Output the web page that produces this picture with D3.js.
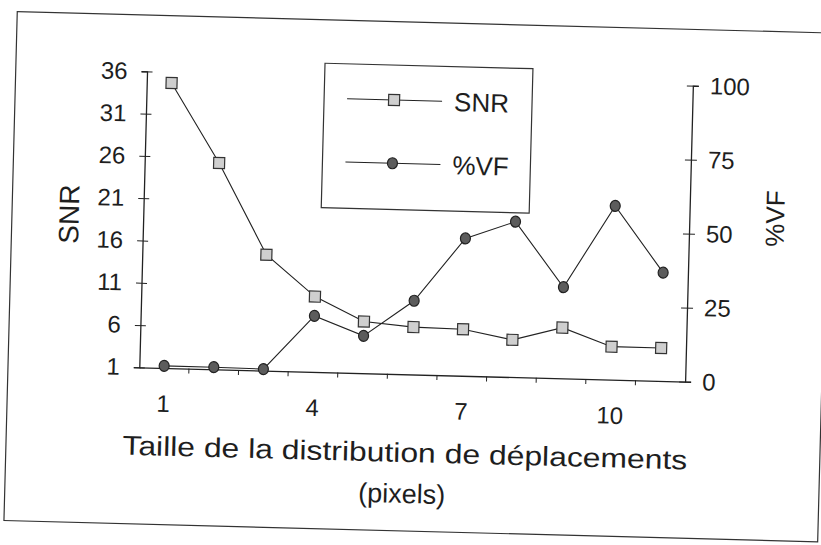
<!DOCTYPE html>
<html>
<head>
<meta charset="utf-8">
<script src="https://cdn.jsdelivr.net/npm/d3@7"></script>
<style>
  html, body { margin: 0; padding: 0; background: #ffffff; }
  svg { display: block; }
  text { font-family: "Liberation Sans", Arial, sans-serif; fill: #1e1e1e; }
</style>
</head>
<body>
<svg id="chart" width="821" height="545"></svg>
<script>
// Category axis: displacement distribution size (pixels)
const categories = [1, 2, 3, 4, 5, 6, 7, 8, 9, 10, 11];
// Left axis series: signal-to-noise ratio
const snrValues = [34.7, 25.4, 14.7, 9.9, 7.1, 6.6, 6.5, 5.4, 7.0, 4.9, 4.9];
// Right axis series: percentage of false vectors
const vfValues = [0.7, 0.7, 0.5, 18.9, 12.6, 24.9, 46.4, 52.5, 30.8, 58.7, 36.6];
// Tick labels
const xTickLabels = [1, 4, 7, 10];
const snrTicks = [1, 6, 11, 16, 21, 26, 31, 36];
const vfTicks = [0, 25, 50, 75, 100];
const seriesNames = ["SNR", "%VF"];
const xTitle = ["Taille de la distribution de déplacements", "(pixels)"];

const ink = "#222";
const plot = { left: 139.3, right: 685.3, top: 71.3, bottom: 367.3 };

const svg = d3.select("#chart");
svg.append("rect").attr("width", 821).attr("height", 545).attr("fill", "#fff");

// The whole sheet sits at a slight tilt
const g = svg.append("g")
  .attr("transform", `rotate(1.5, ${plot.left}, ${plot.bottom})`);

// Outer frame
g.append("rect")
  .attr("x", 8).attr("y", 15).attr("width", 814).attr("height", 509)
  .attr("fill", "none").attr("stroke", "#333").attr("stroke-width", 1.2);

const x = d3.scaleBand().domain(categories).range([plot.left, plot.right]).padding(0);
const cx = d => x(d) + x.bandwidth() / 2;
const ySnr = d3.scaleLinear().domain([1, 36]).range([plot.bottom, plot.top]);
const yVf = d3.scaleLinear().domain([0, 100]).range([plot.bottom, plot.top]);

// Left axis with crossing ticks
const axL = g.append("g").attr("transform", `translate(${plot.left},0)`)
  .call(d3.axisLeft(ySnr).tickValues(snrTicks).tickSize(5.5).tickPadding(14));
axL.selectAll(".tick line").attr("x1", 5.5);
// Right axis with crossing ticks
const axR = g.append("g").attr("transform", `translate(${plot.right},0)`)
  .call(d3.axisRight(yVf).tickValues(vfTicks).tickSize(6).tickPadding(11));
axR.selectAll(".tick line").attr("x1", -6);

[axL, axR].forEach(a => {
  a.select(".domain").attr("stroke", ink).attr("stroke-width", 1.3);
  a.selectAll(".tick line").attr("stroke", ink).attr("stroke-width", 1);
  a.selectAll(".tick text").style("font-size", "24px").attr("fill", "#1e1e1e")
    .style("font-family", "'Liberation Sans', Arial, sans-serif");
});

// Bottom axis: labels at category centres, ticks on category boundaries
const axB = g.append("g").attr("transform", `translate(0,${plot.bottom})`)
  .call(d3.axisBottom(x).tickValues(xTickLabels).tickSize(0).tickPadding(27));
axB.select(".domain").attr("stroke", ink).attr("stroke-width", 1.3);
axB.selectAll(".tick text").style("font-size", "24px").attr("fill", "#1e1e1e")
  .style("font-family", "'Liberation Sans', Arial, sans-serif");
g.append("g").selectAll("line")
  .data(categories.slice(1))
  .join("line")
  .attr("x1", d => x(d)).attr("x2", d => x(d))
  .attr("y1", plot.bottom).attr("y2", plot.bottom + 5)
  .attr("stroke", ink).attr("stroke-width", 1);

// Series lines
const lineSnr = d3.line().x((d, i) => cx(categories[i])).y(d => ySnr(d));
const lineVf = d3.line().x((d, i) => cx(categories[i])).y(d => yVf(d));
g.append("path").attr("d", lineSnr(snrValues))
  .attr("fill", "none").attr("stroke", ink).attr("stroke-width", 1.1);
g.append("path").attr("d", lineVf(vfValues))
  .attr("fill", "none").attr("stroke", ink).attr("stroke-width", 1.1);

// Markers
const sq = 11;
g.append("g").selectAll("rect")
  .data(snrValues).join("rect")
  .attr("x", (d, i) => cx(categories[i]) - sq / 2)
  .attr("y", d => ySnr(d) - sq / 2)
  .attr("width", sq).attr("height", sq)
  .attr("fill", "#cfcfcf").attr("stroke", "#333").attr("stroke-width", 1.2);
g.append("g").selectAll("ellipse")
  .data(vfValues).join("ellipse")
  .attr("cx", (d, i) => cx(categories[i]))
  .attr("cy", d => yVf(d))
  .attr("rx", 5).attr("ry", 5.5)
  .attr("fill", "#5c5c5c").attr("stroke", "#222").attr("stroke-width", 1.2);

// Axis titles
g.append("text")
  .attr("transform", "translate(65,216) rotate(-90)")
  .attr("text-anchor", "middle").attr("dy", "0.35em")
  .style("font-size", "28px").text(seriesNames[0]);
g.append("text")
  .attr("transform", "translate(771,202) rotate(-90)")
  .attr("text-anchor", "middle").attr("dy", "0.35em")
  .style("font-size", "26px").text(seriesNames[1]);

g.append("text")
  .attr("x", 407).attr("y", 455).attr("text-anchor", "middle")
  .attr("textLength", 565).attr("lengthAdjust", "spacingAndGlyphs")
  .style("font-size", "27px").text(xTitle[0]);
g.append("text")
  .attr("x", 405).attr("y", 496).attr("text-anchor", "middle")
  .style("font-size", "27px").text(xTitle[1]);

// Legend
const lg = g.append("g");
lg.append("rect")
  .attr("x", 317).attr("y", 58.5).attr("width", 208).attr("height", 144.5)
  .attr("fill", "#fff").attr("stroke", "#333").attr("stroke-width", 1.2);
const rows = [93.4, 156.7];
rows.forEach((ry, k) => {
  lg.append("line").attr("x1", 340).attr("x2", 435).attr("y1", ry).attr("y2", ry)
    .attr("stroke", ink).attr("stroke-width", 1.1);
  if (k === 0) {
    lg.append("rect").attr("x", 387 - sq / 2).attr("y", ry - sq / 2)
      .attr("width", sq).attr("height", sq)
      .attr("fill", "#cfcfcf").attr("stroke", "#333").attr("stroke-width", 1.2);
  } else {
    lg.append("ellipse").attr("cx", 387).attr("cy", ry).attr("rx", 5).attr("ry", 5.5)
      .attr("fill", "#5c5c5c").attr("stroke", "#222").attr("stroke-width", 1.2);
  }
  lg.append("text").attr("x", 447).attr("y", ry + 9.5)
    .style("font-size", "26px").text(seriesNames[k]);
});
</script>
</body>
</html>
